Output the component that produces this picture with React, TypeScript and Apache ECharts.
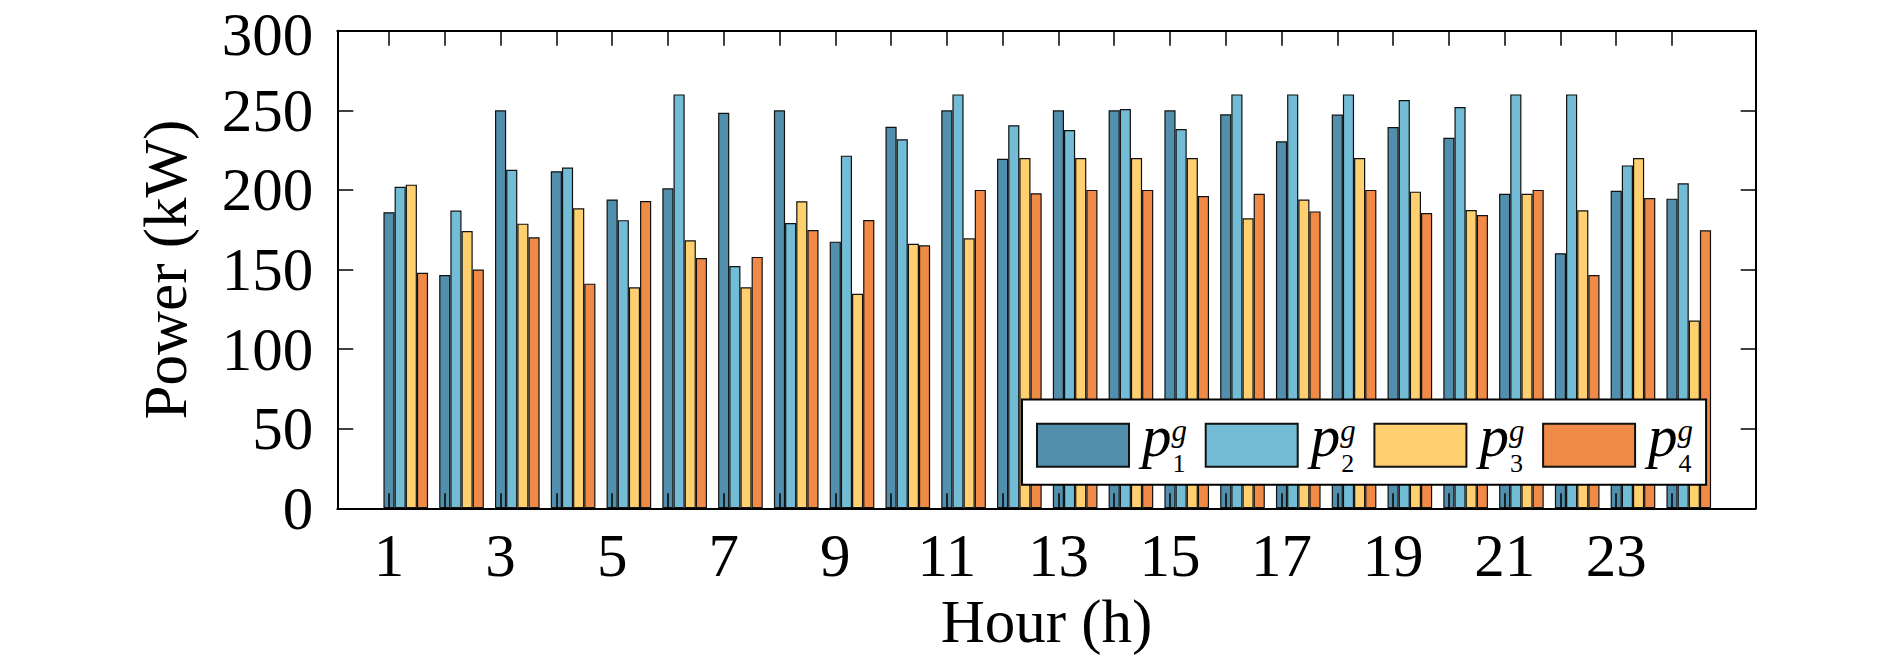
import * as echarts from 'echarts';
import React, { useEffect, useRef } from 'react';

const hours = [1, 2, 3, 4, 5, 6, 7, 8, 9, 10, 11, 12, 13, 14, 15, 16, 17, 18, 19, 20, 21, 22, 23, 24];
const labelHours = [1, 3, 5, 7, 9, 11, 13, 15, 17, 19, 21, 23];
const seriesNames = ['p1', 'p2', 'p3', 'p4'];

const p1 = [186, 146.5, 250, 211.7, 194, 201, 248.5, 250, 167.5, 239.7, 250, 219.6, 250, 250, 250, 247.5, 230.5, 247.3, 239.5, 232.8, 197.6, 160.2, 199.5, 194.5];
const p2 = [202, 187, 212.7, 214, 181, 260, 152.2, 179.2, 221.5, 231.8, 260, 240.6, 237.6, 250.8, 238.3, 260, 260, 260, 256.5, 252.1, 260, 260, 215.4, 204.1];
const p3 = [203.3, 174.2, 178.8, 188.4, 138.8, 168.3, 138.8, 192.8, 134.8, 166.2, 169.6, 220, 220, 220, 220, 182.2, 193.9, 220, 198.9, 187.4, 197.6, 187.2, 220, 117.9];
const p4 = [148, 150, 170.2, 141.1, 193, 157.2, 157.9, 174.8, 181.1, 165.2, 200, 197.9, 200, 200, 196.2, 197.6, 186.5, 200, 185.5, 184.2, 200, 146.5, 194.9, 174.6];

const colors = ['#528FAD', '#72BCD5', '#FFD06F', '#EF8A47'];

// x range of the frame, and the first bar of each group sits on its hour tick
const X_MIN = 0.073;
const X_MAX = 25.5;
const GROUP_SHIFT = 0.3;
const Y_MAX = 300;

const FONT = "'Times New Roman', 'Liberation Serif', serif";

const App: React.FC = () => {
  const chartRef = useRef<HTMLDivElement>(null);

  useEffect(() => {
    if (!chartRef.current) return;
    const chart = echarts.init(chartRef.current, null, { renderer: 'svg' });

    const values = [p1, p2, p3, p4];
    const axisLine = { show: true, onZero: false, lineStyle: { color: '#000', width: 2 } };

    const option: echarts.EChartsOption = {
      animation: false,
      backgroundColor: '#fff',
      grid: {
        left: 337.3,
        right: 134.3,
        top: 30.7,
        bottom: 156.7,
        outerBoundsMode: 'none',
      } as any,
      xAxis: [
        {
          type: 'value',
          position: 'bottom',
          min: X_MIN,
          max: X_MAX,
          z: 5,
          name: 'Hour (h)',
          nameLocation: 'middle',
          nameGap: 83,
          nameTextStyle: { fontFamily: FONT, fontSize: 61, color: '#000' },
          axisLine,
          axisTick: {
            show: true,
            inside: true,
            length: 15,
            customValues: hours,
            lineStyle: { color: '#000', width: 1.5 },
          },
          axisLabel: {
            show: true,
            customValues: labelHours,
            margin: 17,
            fontFamily: FONT,
            fontSize: 61,
            color: '#000',
          },
          splitLine: { show: false },
        } as any,
        {
          type: 'value',
          position: 'top',
          min: X_MIN,
          max: X_MAX,
          z: 5,
          axisLine,
          axisTick: {
            show: true,
            inside: true,
            length: 15,
            customValues: hours,
            lineStyle: { color: '#000', width: 1.5 },
          },
          axisLabel: { show: false },
          splitLine: { show: false },
        } as any,
      ],
      yAxis: [
        {
          type: 'value',
          position: 'left',
          min: 0,
          max: Y_MAX,
          interval: 50,
          name: 'Power (kW)',
          nameLocation: 'middle',
          nameGap: 141,
          nameTextStyle: { fontFamily: FONT, fontSize: 61, color: '#000' },
          axisLine,
          axisTick: { show: true, inside: true, length: 16, lineStyle: { color: '#000', width: 1.5 } },
          axisLabel: {
            margin: 24,
            fontFamily: FONT,
            fontSize: 61,
            lineHeight: 44,
            color: '#000',
            // nudge the top label a little so it stays inside the page
            formatter: (v: number) => (v === Y_MAX ? `{top|${v}}` : `${v}`),
            rich: {
              top: { fontFamily: FONT, fontSize: 61, color: '#000', padding: [8, 0, 0, 0] },
            },
          },
          splitLine: { show: false },
        },
        {
          type: 'value',
          position: 'right',
          min: 0,
          max: Y_MAX,
          interval: 50,
          axisLine,
          axisTick: { show: true, inside: true, length: 15, lineStyle: { color: '#000', width: 1.5 } },
          axisLabel: { show: false },
          splitLine: { show: false },
        },
      ],
      legend: {
        left: 1022,
        top: 399.5,
        orient: 'horizontal',
        icon: 'rect',
        itemWidth: 92,
        itemHeight: 43,
        itemGap: 17.7,
        padding: [7, 13, 8.6, 14],
        backgroundColor: '#fff',
        borderColor: '#000',
        borderWidth: 2,
        borderRadius: 0,
        selectedMode: false,
        data: seriesNames,
        formatter: (name: string) => `{p|p}{g|g}{s|${name.slice(1)}}`,
        textStyle: {
          fontFamily: FONT,
          color: '#000',
          rich: {
            p: { fontFamily: FONT, fontSize: 59, fontStyle: 'italic', lineHeight: 60, height: 41.4, verticalAlign: 'top', padding: [0, 0, 0, 8] },
            g: { fontFamily: FONT, fontSize: 31, fontStyle: 'italic', lineHeight: 60, height: 30.2, verticalAlign: 'top', width: 1 },
            s: { fontFamily: FONT, fontSize: 26, lineHeight: 60, height: 24.4, verticalAlign: 'bottom' },
          },
        },
      } as any,
      series: seriesNames.map((name, k) => ({
        name,
        type: 'bar',
        xAxisIndex: 0,
        yAxisIndex: 0,
        barWidth: 11.16,
        barGap: '0%',
        itemStyle: { color: colors[k], borderColor: '#111', borderWidth: 1.2 },
        emphasis: { disabled: true },
        data: hours.map((h, i) => [h + GROUP_SHIFT, values[k][i]]),
      })),
    };

    chart.setOption(option);
    return () => chart.dispose();
  }, []);

  return (
    <div
      ref={chartRef}
      style={{ position: 'absolute', left: 0, top: 0, width: '1890px', height: '665px' }}
    />
  );
};

export default App;
